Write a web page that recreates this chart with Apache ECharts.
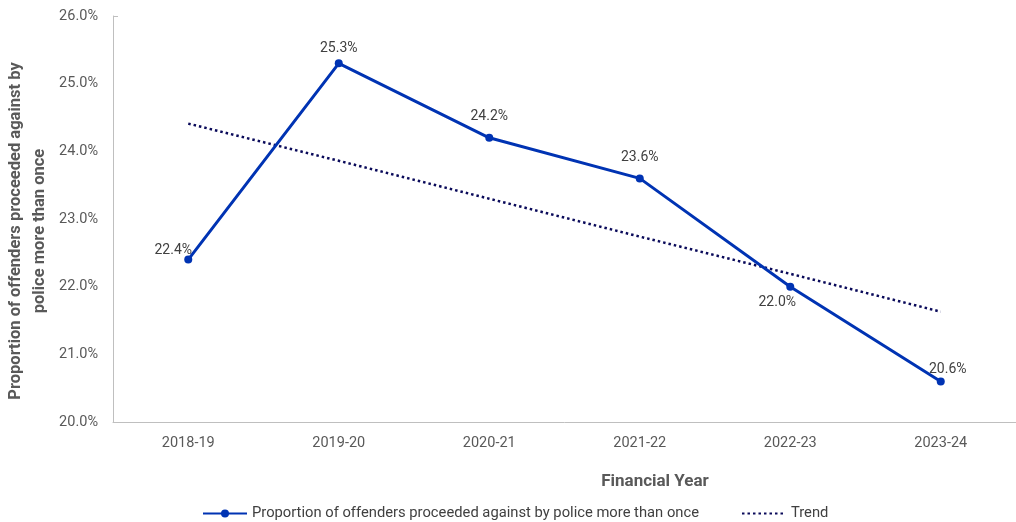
<!DOCTYPE html>
<html>
<head>
<meta charset="utf-8">
<script src="https://cdn.jsdelivr.net/npm/echarts@6/dist/echarts.min.js"></script>
<style>
  html, body { margin: 0; padding: 0; background: #fff; }
  #chart { width: 1016px; height: 522px; }
</style>
</head>
<body>
<div id="chart"></div>
<script>
// Financial years on the category axis
const years = ['2018-19', '2019-20', '2020-21', '2021-22', '2022-23', '2023-24'];
// Proportion of offenders proceeded against more than once (%)
const proportion = [22.4, 25.3, 24.2, 23.6, 22.0, 20.6];
// Linear trend values for each year (%)
const trend = [24.41, 23.86, 23.30, 22.74, 22.19, 21.63];
// Y-axis range and step (%)
const yMin = 20, yMax = 26, yStep = 1;

const seriesName = 'Proportion of offenders proceeded against by police more than once';
const yTitleLines = ['Proportion of offenders proceeded against by', 'police more than once'];
const xTitle = 'Financial Year';
const FONT = 'Roboto, "Noto Sans", sans-serif';

// per-point label placement
const labelPlace = [
  { position: 'top', offset: [-15, 10] },
  { position: 'top', offset: [0, 4] },
  { position: 'top', offset: [0, -2] },
  { position: 'top', offset: [0, -2] },
  { position: 'bottom', offset: [-13, -3] },
  { position: 'top', offset: [7, 7] }
];

// rotated y-axis title, one text element per line
const yTitleGraphics = yTitleLines.map((line, i) => ({
  type: 'text',
  x: 16 + i * 24, y: 231,
  rotation: Math.PI / 2,
  style: {
    text: line,
    align: 'center', verticalAlign: 'middle',
    fontFamily: FONT, fontSize: 16.5, fontWeight: 'bold',
    fill: '#595959'
  }
}));

const chart = echarts.init(document.getElementById('chart'));
chart.setOption({
  animation: false,
  textStyle: { fontFamily: FONT },
  grid: { left: 113, right: 0, top: 16, bottom: 100, outerBoundsMode: 'none', containLabel: false },
  title: {
    text: xTitle,
    left: 650, top: 468, textAlign: 'center',
    textStyle: { fontFamily: FONT, fontSize: 17, fontWeight: 'bold', color: '#595959' }
  },
  graphic: yTitleGraphics,
  legend: {
    bottom: -4, left: 197,
    itemGap: 42, itemWidth: 44, itemHeight: 10,
    textStyle: { fontFamily: FONT, fontSize: 14.75, color: '#404040' },
    data: [
      { name: seriesName },
      { name: 'Trend', itemStyle: { opacity: 0 } }
    ]
  },
  xAxis: {
    type: 'category',
    data: years,
    boundaryGap: true,
    axisLine: { lineStyle: { color: '#bfbfbf', width: 1 } },
    axisTick: { show: false },
    axisLabel: { color: '#595959', fontSize: 14.5, margin: 14, fontFamily: FONT }
  },
  yAxis: {
    type: 'value',
    min: yMin, max: yMax, interval: yStep,
    axisLine: { show: true, lineStyle: { color: '#bfbfbf', width: 1 } },
    axisTick: { show: true, inside: true, length: 5, customValues: [yMax], lineStyle: { color: '#bfbfbf' } },
    splitLine: { show: false },
    axisLabel: {
      color: '#595959', fontSize: 14.5, margin: 15, fontFamily: FONT,
      formatter: v => v.toFixed(1) + '%'
    }
  },
  series: [
    {
      name: seriesName,
      type: 'line',
      data: proportion.map((v, i) => ({
        value: v,
        label: { show: true, position: labelPlace[i].position, offset: labelPlace[i].offset }
      })),
      symbol: 'circle',
      symbolSize: 8,
      z: 3,
      lineStyle: { color: '#0033b3', width: 3 },
      itemStyle: { color: '#0033b3' },
      label: {
        show: true, color: '#404040', fontSize: 14, fontFamily: FONT, distance: 8,
        formatter: p => p.value.toFixed(1) + '%'
      }
    },
    {
      name: 'Trend',
      type: 'line',
      data: trend,
      symbol: 'none',
      z: 2,
      lineStyle: { color: '#0a0a5a', width: 2.5, type: [2.5, 3] },
      itemStyle: { color: '#0a0a5a' }
    }
  ]
});
</script>
</body>
</html>
